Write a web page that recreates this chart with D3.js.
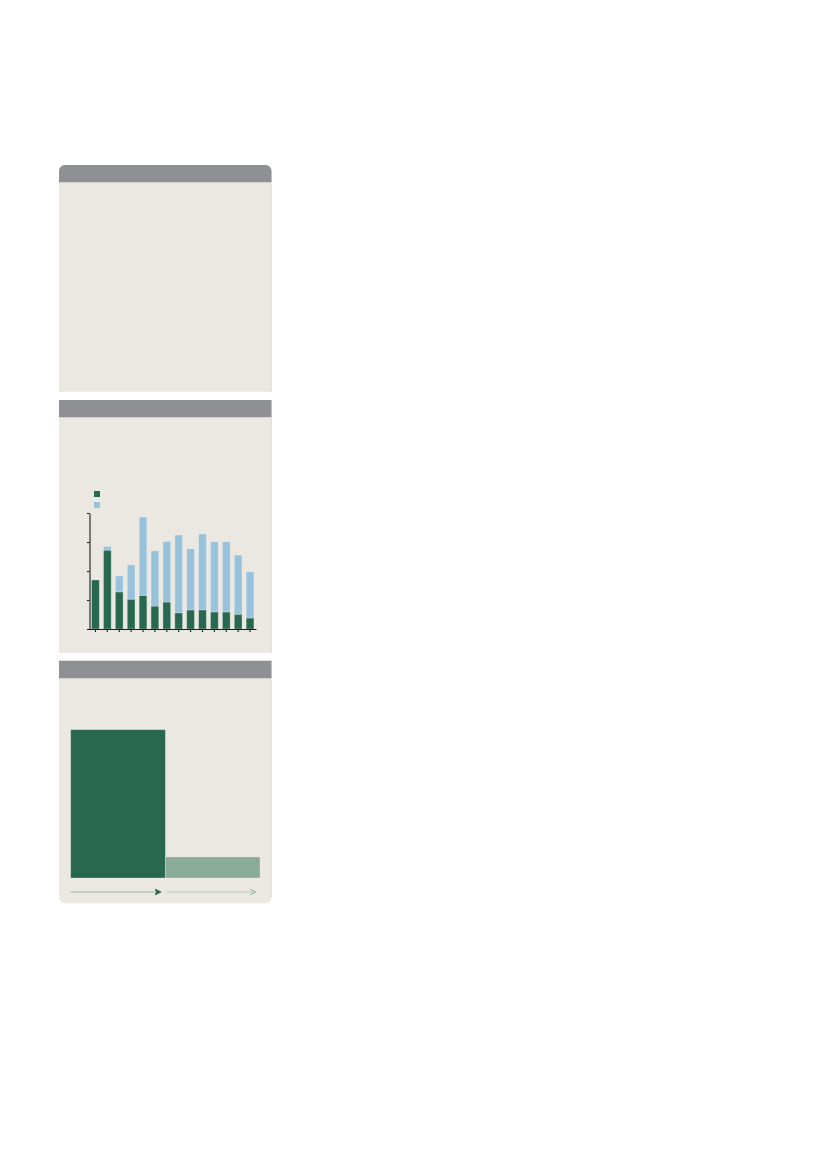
<!DOCTYPE html>
<html>
<head>
<meta charset="utf-8">
<script src="https://cdn.jsdelivr.net/npm/d3@7"></script>
<style>
  body { margin: 0; background: #fff; }
  svg { display: block; }
</style>
</head>
<body>
<div id="graf"></div>
<script>
// data for the stacked bars (middle panel)
const periods = ["p01", "p02", "p03", "p04", "p05", "p06", "p07", "p08", "p09", "p10", "p11", "p12", "p13", "p14"]
const greenVals = [16.9, 27.2, 12.8, 10.3, 11.6, 7.9, 9.3, 5.6, 6.6, 6.6, 5.9, 5.9, 5.1, 3.8]
const blueVals = [0, 1.3, 5.5, 11.8, 27.0, 19.1, 20.9, 26.8, 21.1, 26.2, 24.2, 24.2, 20.4, 15.9]
const yTicks = [0, 10, 20, 30, 40]

// data for the two wide bars (bottom panel)
const shareCats = ["a", "b"]
const shareVals = [100, 14.2]

const svg = d3.select("#graf")
  .append("svg")
  .attr("width", 826)
  .attr("height", 1169)

const headerCol = "#8f9094"
const bodyCol = "#ebe7e1"
const dark = "#286850"
const blue = "#98c2db"
const pale = "#8aab98"

// panels
const px0 = 59, px1 = 271.5, r = 6
const panels = [
  { top: 165, head: 182.3, bottom: 391.7, rt: true, rb: false },
  { top: 400, head: 417.3, bottom: 652.7, rt: false, rb: false },
  { top: 660.7, head: 678.3, bottom: 903.3, rt: false, rb: true }
]

const panelPath = (y0, y1, rt, rb) => {
  const p = d3.path()
  p.moveTo(px0 + (rt ? r : 0), y0)
  p.lineTo(px1 - (rt ? r : 0), y0)
  if (rt) p.arcTo(px1, y0, px1, y0 + r, r)
  p.lineTo(px1, y1 - (rb ? r : 0))
  if (rb) p.arcTo(px1, y1, px1 - r, y1, r)
  p.lineTo(px0 + (rb ? r : 0), y1)
  if (rb) p.arcTo(px0, y1, px0, y1 - r, r)
  p.lineTo(px0, y0 + (rt ? r : 0))
  if (rt) p.arcTo(px0, y0, px0 + r, y0, r)
  p.closePath()
  return p.toString()
}

panels.forEach(pn => {
  svg.append("path")
    .attr("d", panelPath(pn.top, pn.bottom, pn.rt, pn.rb))
    .attr("fill", bodyCol)
  svg.append("path")
    .attr("d", panelPath(pn.top, pn.head, pn.rt, false))
    .attr("fill", headerCol)
  svg.append("line")
    .attr("x1", px1 - 0.5).attr("x2", px1 - 0.5)
    .attr("y1", pn.head).attr("y2", pn.bottom - (pn.rb ? r : 0))
    .attr("stroke", "#dcd8d2")
    .attr("stroke-width", 1)
})

// ---- stacked bar chart ----
const x = d3.scaleBand()
  .domain(periods)
  .range([89.5, 256])
  .paddingInner(0.35)
  .paddingOuter(0.175)

const y = d3.scaleLinear()
  .domain([0, 40])
  .range([629, 513])

const stackData = periods.map((p, i) => ({ period: p, green: greenVals[i], blue: blueVals[i] }))
const series = d3.stack().keys(["green", "blue"])(stackData)
const colors = { green: dark, blue: blue }

svg.append("g")
  .selectAll("g")
  .data(series)
  .join("g")
  .attr("fill", d => colors[d.key])
  .selectAll("rect")
  .data(d => d.filter(s => s[1] - s[0] > 0))
  .join("rect")
  .attr("x", d => x(d.data.period))
  .attr("y", d => y(d[1]))
  .attr("width", x.bandwidth())
  .attr("height", d => y(d[0]) - y(d[1]))
  .attr("stroke", "#ffffff")
  .attr("stroke-opacity", 0.35)
  .attr("stroke-width", 0.8)

// legend
svg.append("rect").attr("x", 94).attr("y", 491).attr("width", 6).attr("height", 6).attr("fill", dark)
svg.append("rect").attr("x", 94).attr("y", 502).attr("width", 6).attr("height", 6).attr("fill", blue)

const yAxis = d3.axisLeft(y).tickValues(yTicks).tickSize(2.5).tickSizeOuter(0).tickFormat("")
svg.append("g")
  .attr("transform", "translate(89.5,0)")
  .call(yAxis)
  .call(g => g.selectAll("path, line").attr("stroke", "#1c1c1c").attr("stroke-width", 1.1))

const xAxis = d3.axisBottom(x).tickSize(3).tickSizeOuter(0).tickFormat("")
svg.append("g")
  .attr("transform", "translate(0,629)")
  .call(xAxis)
  .call(g => g.select(".domain").attr("d", "M87,0.5H256.5"))
  .call(g => g.selectAll("path, line").attr("stroke", "#1c1c1c").attr("stroke-width", 1.1))

// ---- two wide bars ----
const x2 = d3.scaleBand()
  .domain(shareCats)
  .range([70.7, 260])

const y2 = d3.scaleLinear()
  .domain([0, 100])
  .range([878, 729.7])

const shareCols = [dark, pale]

svg.append("g")
  .selectAll("rect")
  .data(shareVals)
  .join("rect")
  .attr("x", (d, i) => x2(shareCats[i]))
  .attr("y", d => y2(d))
  .attr("width", x2.bandwidth())
  .attr("height", d => y2(0) - y2(d))
  .attr("fill", (d, i) => shareCols[i])
  .attr("stroke", "#ffffff")
  .attr("stroke-opacity", 0.3)
  .attr("stroke-width", 0.8)

// arrows under the bars
const defs = svg.append("defs")
const arrowCols = [
  { line: "#93b8a5", head: dark },
  { line: "#b3cbbd", head: pale }
]
arrowCols.forEach((c, i) => {
  defs.append("marker")
    .attr("id", `head${i}`)
    .attr("viewBox", "0 0 10 10")
    .attr("refX", 9).attr("refY", 5)
    .attr("markerWidth", 6).attr("markerHeight", 6)
    .attr("markerUnits", "userSpaceOnUse")
    .attr("orient", "auto")
    .append("path")
    .attr("d", i === 0 ? "M0,0L10,5L0,10L3,5Z" : "M0,0L10,5L0,10")
    .attr("fill", i === 0 ? c.head : "none")
    .attr("stroke", c.head)
    .attr("stroke-width", 1.5)
})

svg.append("g")
  .selectAll("line")
  .data(shareCats)
  .join("line")
  .attr("x1", (d, i) => x2(d) + (i === 0 ? 0 : 1.5))
  .attr("x2", d => x2(d) + x2.bandwidth() - 5)
  .attr("y1", 892)
  .attr("y2", 892)
  .attr("stroke", (d, i) => arrowCols[i].line)
  .attr("stroke-width", 1.2)
  .attr("marker-end", (d, i) => `url(#head${i})`)
</script>
</body>
</html>
